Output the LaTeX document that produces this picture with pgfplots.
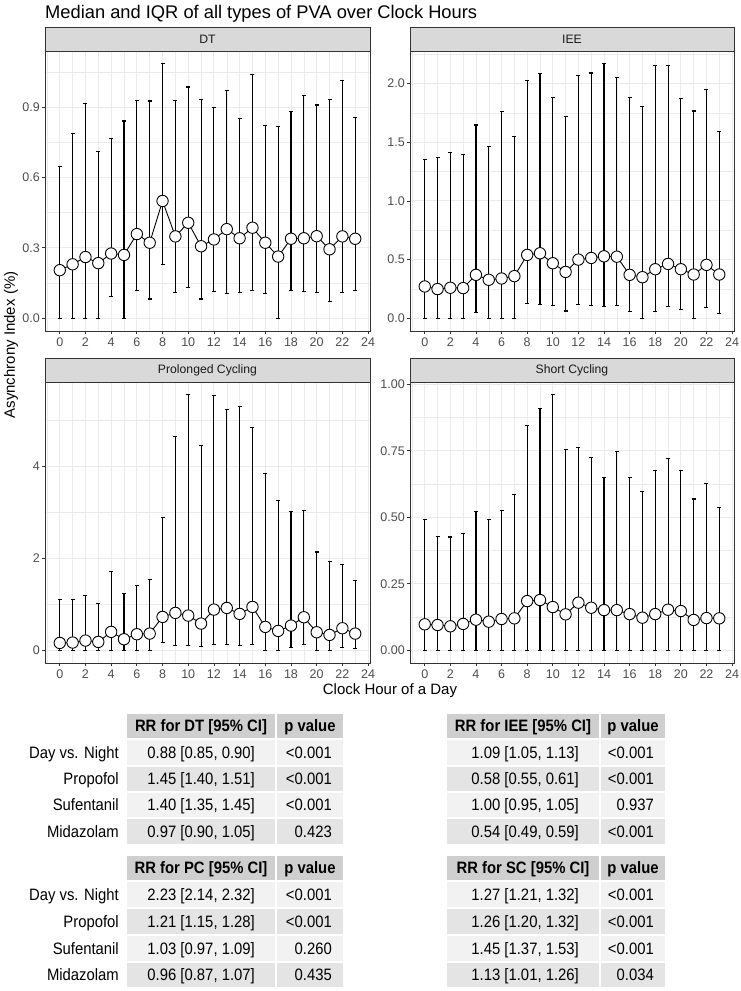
\documentclass[border=0pt]{standalone}
\usepackage{fontspec}
\setmainfont{Liberation Sans}
\usepackage{graphicx}
\usepackage{pgfplots}
\pgfplotsset{compat=1.18}
\usepackage{pgfplotstable}
\definecolor{gridc}{HTML}{EBEBEB}
\definecolor{framec}{HTML}{333333}
\definecolor{ticklab}{HTML}{4D4D4D}
\definecolor{stripc}{HTML}{D9D9D9}
\definecolor{hdr}{HTML}{CFCFCF}
\definecolor{rowa}{HTML}{F2F2F2}
\definecolor{rowb}{HTML}{E4E4E4}

\pgfplotstableread{
h lo med hi
0 0 0.205 0.647
1 0 0.230 0.786
2 0 0.261 0.916
3 0 0.235 0.711
4 0.092 0.276 0.767
5 0 0.270 0.841
6 0.120 0.359 0.930
7 0.082 0.322 0.926
8 0.228 0.500 1.085
9 0.110 0.349 0.930
10 0.131 0.407 0.986
11 0.082 0.307 0.933
12 0.116 0.336 0.897
13 0.107 0.380 0.971
14 0.110 0.341 0.851
15 0.120 0.386 1.040
16 0.105 0.322 0.822
17 0 0.263 0.818
18 0.120 0.339 0.883
19 0.114 0.341 0.950
20 0.110 0.350 0.909
21 0.071 0.294 0.934
22 0.110 0.349 1.013
23 0.117 0.339 0.855
}\dtdata

\pgfplotstableread{
h lo med hi
0 0 0.271 1.356
1 0 0.249 1.370
2 0 0.260 1.415
3 0 0.257 1.398
4 0.048 0.370 1.647
5 0 0.328 1.463
6 0 0.339 1.760
7 0 0.359 1.548
8 0.127 0.540 2.028
9 0.119 0.554 2.085
10 0.110 0.469 1.879
11 0.062 0.395 1.723
12 0.116 0.500 2.071
13 0.110 0.514 2.090
14 0.102 0.528 2.169
15 0.110 0.525 2.051
16 0.056 0.370 1.881
17 0 0.350 1.802
18 0.059 0.418 2.155
19 0.102 0.463 2.155
20 0.073 0.418 1.870
21 0 0.373 1.766
22 0.088 0.455 1.949
23 0.037 0.373 1.590
}\ieedata

\pgfplotstableread{
h lo med hi
0 0 0.159 1.109
1 0 0.167 1.109
2 0 0.210 1.196
3 0 0.181 1.014
4 0 0.399 1.717
5 0 0.239 1.232
6 0 0.348 1.406
7 0 0.362 1.536
8 0.160 0.725 2.884
9 0.109 0.812 4.659
10 0.094 0.754 5.558
11 0.072 0.580 4.464
12 0.123 0.884 5.536
13 0.116 0.920 5.232
14 0.109 0.790 5.312
15 0.130 0.942 4.841
16 0 0.507 3.855
17 0 0.420 3.254
18 0.058 0.536 3.014
19 0.123 0.717 3.036
20 0 0.391 2.138
21 0 0.333 1.935
22 0.058 0.478 1.862
23 0.036 0.362 1.522
}\pcdata

\pgfplotstableread{
h lo med hi
0 0 0.0975 0.491
1 0 0.095 0.429
2 0 0.090 0.426
3 0 0.099 0.439
4 0 0.115 0.5225
5 0 0.1075 0.4925
6 0 0.1175 0.526
7 0 0.120 0.585
8 0 0.185 0.845
9 0 0.189 0.911
10 0 0.1625 0.961
11 0 0.135 0.754
12 0 0.179 0.762
13 0 0.160 0.726
14 0 0.151 0.651
15 0 0.151 0.7475
16 0 0.136 0.651
17 0 0.1225 0.5975
18 0 0.136 0.676
19 0 0.1525 0.720
20 0 0.1475 0.676
21 0 0.114 0.569
22 0 0.121 0.6275
23 0 0.120 0.536
}\scdata

\pgfplotsset{
  panel/.style={
    scale only axis, anchor=north west,
    xmin=-1.15, xmax=24.15,
    xtick={0,2,...,24}, minor xtick={-1,1,...,23},
    grid=both,
    major grid style={draw=gridc, line width=0.9pt},
    minor grid style={draw=gridc, line width=0.5pt},
    axis line style={draw=framec, line width=0.8pt},
    tick align=outside, tick pos=left,
    major tick length=3pt, minor tick length=0pt,
    tick style={draw=framec, line width=0.8pt},
    ticklabel style={font=\fontsize{12.5}{14}\selectfont, text=ticklab},
    yticklabel style={inner sep=2pt},
    /pgf/number format/assume math mode=true,
    scaled ticks=false,
    clip mode=individual,
  },
  iqr/.style={black, line width=0.9pt, no markers,
    error bars/.cd, y dir=both, y explicit,
    error bar style={line width=1.1pt, black},
    error mark options={rotate=90, mark size=2pt, line width=1.1pt, black}},
  medm/.style={only marks, mark=*, mark size=5.7pt,
    mark options={fill=white, draw=black, line width=0.9pt}},
}

\newcommand\tx[1]{\scalebox{0.9}[1]{\fontsize{16.5}{19}\selectfont #1}}
\newcommand\tbf[1]{\scalebox{0.9}[1]{\fontsize{16.5}{19}\selectfont\bfseries #1}}
\newcommand\strip[3]{%
  \draw[fill=stripc, draw=framec, line width=0.8pt] (#1,-#2) rectangle ++(#3,-24);
}
% one table row: y-centre, label, left value, left p, right value, right p
\newcommand\trow[6]{%
  \node[anchor=base east, inner sep=0pt] at (119,-#1-5.8) {\tx{#2}};
  \node[anchor=base east, inner sep=0pt] at (255,-#1-5.8) {\tx{#3}};
  \node[anchor=base east, inner sep=0pt] at (332,-#1-5.8) {\tx{#4}};
  \node[anchor=base east, inner sep=0pt] at (579,-#1-5.8) {\tx{#5}};
  \node[anchor=base east, inner sep=0pt] at (654,-#1-5.8) {\tx{#6}};
}

\begin{document}
\begin{tikzpicture}
\useasboundingbox (0pt,0pt) rectangle (740pt,-991pt);

% DT
\begin{axis}[panel, at={(45pt,-51pt)}, width=325pt, height=280pt,
  ymin=-0.0543, ymax=1.1393,
  ytick={0,0.3,0.6,0.9}, yticklabels={0.0,0.3,0.6,0.9},
  minor ytick={0.15,0.45,0.75,1.05}]
\addplot[iqr] table[x=h, y=med, y error plus expr=\thisrow{hi}-\thisrow{med}, y error minus expr=\thisrow{med}-\thisrow{lo}] {\dtdata};
\addplot[medm] table[x=h, y=med] {\dtdata};
\end{axis}

% IEE
\begin{axis}[panel, at={(410pt,-51pt)}, width=324pt, height=280pt,
  ymin=-0.1085, ymax=2.2775,
  ytick={0,0.5,1,1.5,2}, yticklabels={0.0,0.5,1.0,1.5,2.0},
  minor ytick={0.25,0.75,1.25,1.75,2.25}]
\addplot[iqr] table[x=h, y=med, y error plus expr=\thisrow{hi}-\thisrow{med}, y error minus expr=\thisrow{med}-\thisrow{lo}] {\ieedata};
\addplot[medm] table[x=h, y=med] {\ieedata};
\end{axis}

% PC
\begin{axis}[panel, at={(45pt,-382pt)}, width=325pt, height=281pt,
  ymin=-0.278, ymax=5.836,
  ytick={0,2,4}, yticklabels={0,2,4},
  minor ytick={1,3,5}]
\addplot[iqr] table[x=h, y=med, y error plus expr=\thisrow{hi}-\thisrow{med}, y error minus expr=\thisrow{med}-\thisrow{lo}] {\pcdata};
\addplot[medm] table[x=h, y=med] {\pcdata};
\end{axis}

% SC
\begin{axis}[panel, at={(410pt,-382pt)}, width=324pt, height=281pt,
  ymin=-0.048, ymax=1.009,
  ytick={0,0.25,0.5,0.75,1}, yticklabels={0.00,0.25,0.50,0.75,1.00},
  minor ytick={0.125,0.375,0.625,0.875}]
\addplot[iqr] table[x=h, y=med, y error plus expr=\thisrow{hi}-\thisrow{med}, y error minus expr=\thisrow{med}-\thisrow{lo}] {\scdata};
\addplot[medm] table[x=h, y=med] {\scdata};
\end{axis}

\begin{scope}[x=1pt, y=1pt]
% title
\node[anchor=base west, inner sep=0pt, font=\fontsize{18.3}{20}\selectfont] at (45,-18) {Median and IQR of all types of PVA over Clock Hours};

% strips
\strip{45}{27}{325}
\strip{410}{27}{324}
\strip{45}{358}{325}
\strip{410}{358}{324}
\begin{scope}[every node/.style={font=\fontsize{12.2}{14}\selectfont, text=black!90}]
\node at (207.5,-39) {DT};
\node at (572,-39) {IEE};
\node at (207.5,-370) {Prolonged Cycling};
\node at (572,-370) {Short Cycling};
\end{scope}

% axis titles
\node[rotate=90, font=\fontsize{15}{17}\selectfont] at (11,-345) {Asynchrony Index (\%)};
\node[font=\fontsize{15}{17}\selectfont] at (390,-691) {Clock Hour of a Day};

% tables: backgrounds
\foreach \yt/\yb/\c in {713/739/hdr, 739/766/rowa, 766/792/rowb, 792/818/rowa, 818/845/rowb,
                        855/881/hdr, 881/908/rowa, 908/935/rowb, 935/962/rowa, 962/988/rowb} {
  \path[fill=\c, draw=white, line width=1.2pt] (126,-\yt) rectangle (276,-\yb);
  \path[fill=\c, draw=white, line width=1.2pt] (276,-\yt) rectangle (344,-\yb);
  \path[fill=\c, draw=white, line width=1.2pt] (446,-\yt) rectangle (600,-\yb);
  \path[fill=\c, draw=white, line width=1.2pt] (600,-\yt) rectangle (666,-\yb);
}
% headers
\node[anchor=base, inner sep=0pt] at (201,-731.8) {\tbf{RR for DT [95\% CI]}};
\node[anchor=base, inner sep=0pt] at (310,-731.8) {\tbf{p value}};
\node[anchor=base, inner sep=0pt] at (523,-731.8) {\tbf{RR for IEE [95\% CI]}};
\node[anchor=base, inner sep=0pt] at (633,-731.8) {\tbf{p value}};
\node[anchor=base, inner sep=0pt] at (201,-873.8) {\tbf{RR for PC [95\% CI]}};
\node[anchor=base, inner sep=0pt] at (310,-873.8) {\tbf{p value}};
\node[anchor=base, inner sep=0pt] at (523,-873.8) {\tbf{RR for SC [95\% CI]}};
\node[anchor=base, inner sep=0pt] at (633,-873.8) {\tbf{p value}};

% rows
\trow{752.5}{Day vs. Night}{0.88 [0.85, 0.90]}{<0.001}{1.09 [1.05, 1.13]}{<0.001}
\trow{779}{Propofol}{1.45 [1.40, 1.51]}{<0.001}{0.58 [0.55, 0.61]}{<0.001}
\trow{805}{Sufentanil}{1.40 [1.35, 1.45]}{<0.001}{1.00 [0.95, 1.05]}{0.937}
\trow{831.5}{Midazolam}{0.97 [0.90, 1.05]}{0.423}{0.54 [0.49, 0.59]}{<0.001}
\trow{894.5}{Day vs. Night}{2.23 [2.14, 2.32]}{<0.001}{1.27 [1.21, 1.32]}{<0.001}
\trow{921.5}{Propofol}{1.21 [1.15, 1.28]}{<0.001}{1.26 [1.20, 1.32]}{<0.001}
\trow{948.5}{Sufentanil}{1.03 [0.97, 1.09]}{0.260}{1.45 [1.37, 1.53]}{<0.001}
\trow{975}{Midazolam}{0.96 [0.87, 1.07]}{0.435}{1.13 [1.01, 1.26]}{0.034}
\end{scope}
\end{tikzpicture}
\end{document}
